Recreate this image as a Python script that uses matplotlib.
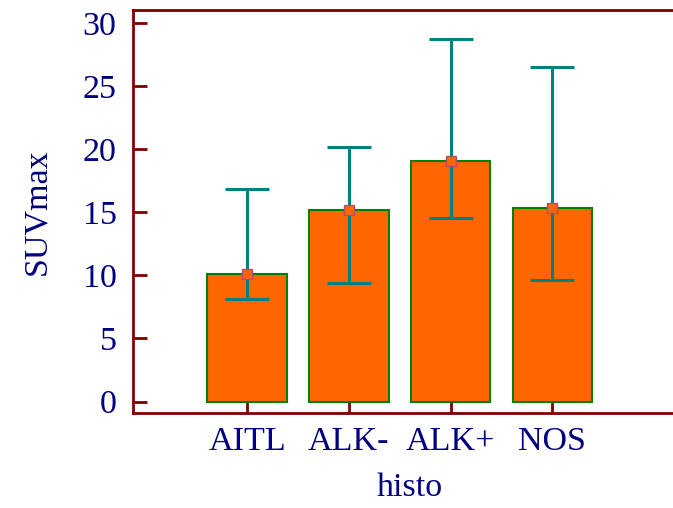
import numpy as np
import matplotlib.pyplot as plt

# Données
categories = ["AITL", "ALK-", "ALK+", "NOS"]
moyennes = [10.13, 15.15, 19.03, 15.36]
err_haut = [16.83, 20.16, 28.69, 26.47]
err_bas = [8.15, 9.39, 14.54, 9.60]

plt.rcParams['font.family'] = ['Liberation Serif', 'DejaVu Serif']
NAVY = '#000080'
ROUGE = '#800000'
TAILLE = 24.5

fig = plt.figure(figsize=(6.73, 5.08), dpi=100)
ax = fig.add_axes([0.198, 0.187, 0.822, 0.793])

x = np.arange(len(categories))
ax.bar(x, moyennes, width=0.78, color='#FF6600', edgecolor='#008000',
       linewidth=1.5, zorder=2)

moy = np.array(moyennes)
yerr = [moy - np.array(err_bas), np.array(err_haut) - moy]
ax.errorbar(x, moy, yerr=yerr, fmt='none', ecolor='#008080',
            elinewidth=2.2, capsize=16, capthick=2.2, zorder=3)
ax.plot(x, moy, 's', markersize=7, markerfacecolor='#FF6600',
        markeredgecolor='#B05070', markeredgewidth=1, zorder=4)

ax.set_xlim(-1.12, 4.32)
ax.set_ylim(-0.9, 31)
ax.set_xticks(x)
ax.set_xticklabels(categories)
ax.set_yticks(np.arange(0, 31, 5))

for side in ['left', 'bottom', 'top']:
    ax.spines[side].set_color(ROUGE)
    ax.spines[side].set_linewidth(2)
ax.spines['right'].set_visible(False)

ax.tick_params(axis='both', direction='in', length=10, width=2,
               color=ROUGE, labelcolor=NAVY, labelsize=TAILLE)
ax.tick_params(axis='x', pad=10)
ax.tick_params(axis='y', pad=12)

ax.set_xlabel("histo", color=NAVY, fontsize=TAILLE, labelpad=11)
ax.set_ylabel("SUVmax", color=NAVY, fontsize=TAILLE, labelpad=22)

fig.savefig("out.png", dpi=100)
